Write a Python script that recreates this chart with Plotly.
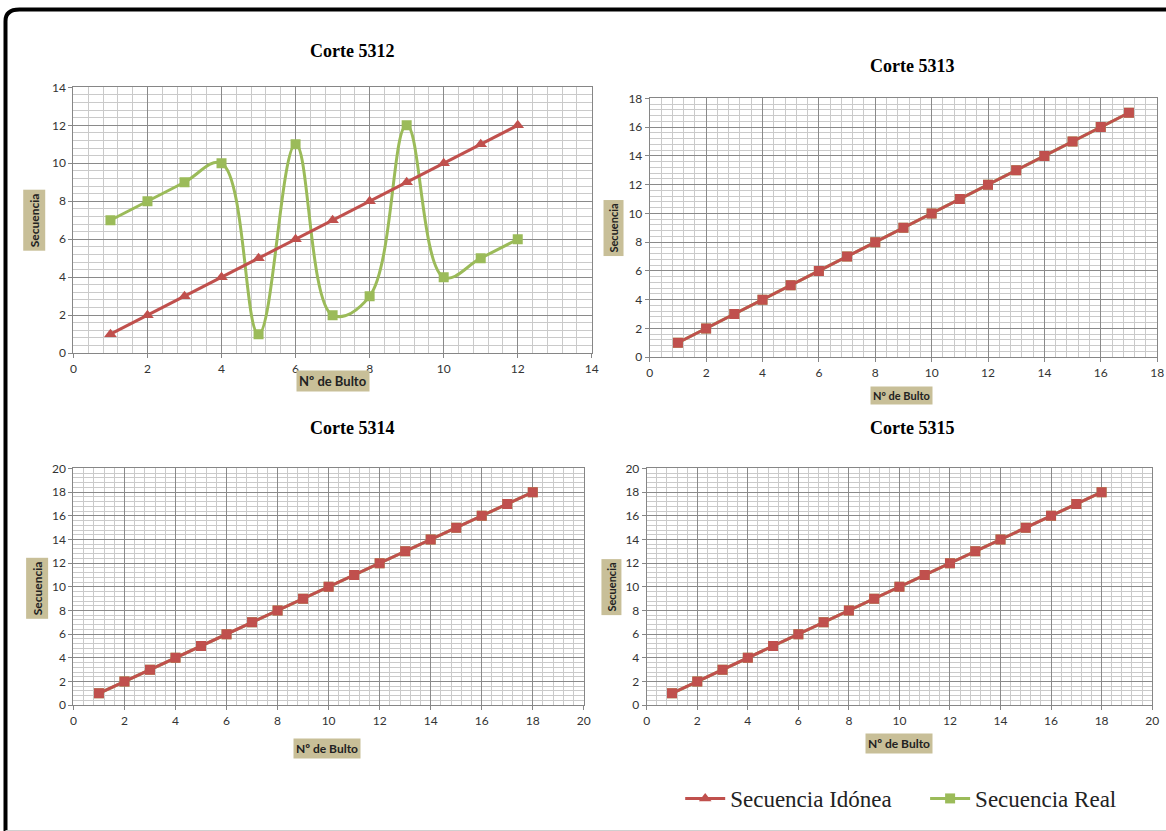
import plotly.graph_objects as go

W, H = 1166, 831

# ---- data ----
x_5312 = [1, 2, 3, 4, 5, 6, 7, 8, 9, 10, 11, 12]
idonea_5312 = [1, 2, 3, 4, 5, 6, 7, 8, 9, 10, 11, 12]
real_5312 = [7, 8, 9, 10, 1, 11, 2, 3, 12, 4, 5, 6]

x_5313 = list(range(1, 18))
idonea_5313 = list(range(1, 18))
real_5313 = list(range(1, 18))

x_5314 = list(range(1, 19))
idonea_5314 = list(range(1, 19))
real_5314 = list(range(1, 19))

x_5315 = list(range(1, 19))
idonea_5315 = list(range(1, 19))
real_5315 = list(range(1, 19))

titles = ["Corte 5312", "Corte 5313", "Corte 5314", "Corte 5315"]
x_ranges = [14, 18, 20, 20]
y_ranges = [14, 18, 20, 20]

RED = "#C0504D"
GREEN = "#9BBB59"
TAN = "#C8BF98"

# compensation for the observed page placement of the rendered figure
SX, OX = 0.9926, 2.5
SY, OY = 0.979, 8.9

def px(x):
    return ((x - OX) / SX) / W

def py(y):
    return 1 - ((y - OY) / SY) / H

# plot-area rectangles in screen pixels: (left, right, top, bottom)
areas = [(73, 592, 88, 353), (650, 1158, 99, 357), (73, 584, 468, 704), (647, 1153, 468, 704)]
title_pos = [(352, 52), (913, 67), (352, 428), (913, 428)]
xlab_pos = [(333, 381, 13), (902, 395, 11), (327, 747, 12), (900, 742, 12)]
ylab_pos = [(34, 220, 12), (614, 228, 11), (37, 587, 12), (612, 586, 11)]

fig = go.Figure()

datasets = [
    (x_5312, idonea_5312, real_5312, "triangle-up"),
    (x_5313, idonea_5313, real_5313, "square"),
    (x_5314, idonea_5314, real_5314, "square"),
    (x_5315, idonea_5315, real_5315, "square"),
]

layout_axes = {}
annotations = []
for i, (xs, ide, rea, sym) in enumerate(datasets):
    n = "" if i == 0 else str(i + 1)
    xa, ya = "x" + n, "y" + n
    fig.add_trace(go.Scatter(
        x=xs, y=rea, xaxis=xa, yaxis=ya, mode="lines+markers",
        name="Secuencia Real", showlegend=(i == 0), legend="legend2",
        line=dict(color=GREEN, width=3, shape="spline", smoothing=1.1),
        marker=dict(symbol="square", size=10, color=GREEN),
    ))
    fig.add_trace(go.Scatter(
        x=xs, y=ide, xaxis=xa, yaxis=ya, mode="lines+markers",
        name="Secuencia Idónea", showlegend=(i == 0), legend="legend",
        line=dict(color=RED, width=3),
        marker=dict(symbol=sym, size=11 if i == 0 else 10, color=RED),
    ))
    l, r, t, b = areas[i]
    common = dict(
        showgrid=True, gridcolor="#8a8a8a", gridwidth=1,
        showline=True, linecolor="#868686", linewidth=1, mirror=True,
        ticks="outside", ticklen=4, tickcolor="#868686",
        tickfont=dict(family="Lato, Open Sans, sans-serif", size=12, color="#333333"),
        zeroline=False, dtick=2, tick0=0,
        minor=dict(dtick=0.4, showgrid=True, gridcolor="#cacaca", gridwidth=1, ticks=""),
        fixedrange=True,
    )
    layout_axes["xaxis" + n] = dict(common, domain=[px(l), px(r)], range=[0, x_ranges[i]], anchor=ya)
    layout_axes["yaxis" + n] = dict(common, domain=[py(b), py(t)], range=[0, y_ranges[i]], anchor=xa)

    tx, ty = title_pos[i]
    annotations.append(dict(
        x=px(tx), y=py(ty), xref="paper", yref="paper", text="<b>%s</b>" % titles[i],
        showarrow=False, font=dict(family="Liberation Serif, serif", size=18, color="#000000"),
        xanchor="center", yanchor="middle"))
    lx, ly, fs = xlab_pos[i]
    annotations.append(dict(
        x=px(lx), y=py(ly), xref="paper", yref="paper", text="<b>Nº de Bulto</b>",
        showarrow=False, font=dict(family="Lato, Open Sans, sans-serif", size=fs, color="#222222"),
        bgcolor=TAN, borderpad=2, xanchor="center", yanchor="middle"))
    sx, sy, fs2 = ylab_pos[i]
    annotations.append(dict(
        x=px(sx), y=py(sy), xref="paper", yref="paper", text="<b>Secuencia</b>",
        showarrow=False, textangle=-90,
        font=dict(family="Lato, Open Sans, sans-serif", size=fs2, color="#222222"),
        bgcolor=TAN, borderpad=3, xanchor="center", yanchor="middle"))

# rounded frame
frame_path = "M {x0},{yb} L {x0},{y1} Q {x0},{yt} {x1},{yt} L {x2},{yt}".format(
    x0=px(5), yb=py(860), y1=py(22), yt=py(10.5), x1=px(19), x2=px(1185))

leg_font = dict(family="Liberation Serif, serif", size=23, color="#222222")
fig.update_layout(
    width=W, height=H, autosize=False,
    margin=dict(l=0, r=0, t=0, b=0, pad=0),
    paper_bgcolor="white", plot_bgcolor="white",
    annotations=annotations,
    shapes=[
        dict(type="path", xref="paper", yref="paper", path=frame_path,
             line=dict(color="black", width=4)),
        dict(type="line", xref="paper", yref="paper", x0=px(5), x1=px(1185), y0=py(829), y1=py(829),
             line=dict(color="#cccccc", width=1)),
    ],
    legend=dict(
        orientation="h", x=px(680.5), y=py(797), xanchor="left", yanchor="middle",
        font=leg_font, bgcolor="rgba(0,0,0,0)", itemwidth=40,
    ),
    legend2=dict(
        orientation="h", x=px(925.7), y=py(797), xanchor="left", yanchor="middle",
        font=leg_font, bgcolor="rgba(0,0,0,0)", itemwidth=40,
    ),
    **layout_axes,
)

fig.write_html(
    "out.html",
    config={"displayModeBar": False},
    post_script="document.documentElement.style.margin='0';document.body.style.margin='0';"
                "document.body.style.overflow='hidden';document.documentElement.style.overflow='hidden';",
)
